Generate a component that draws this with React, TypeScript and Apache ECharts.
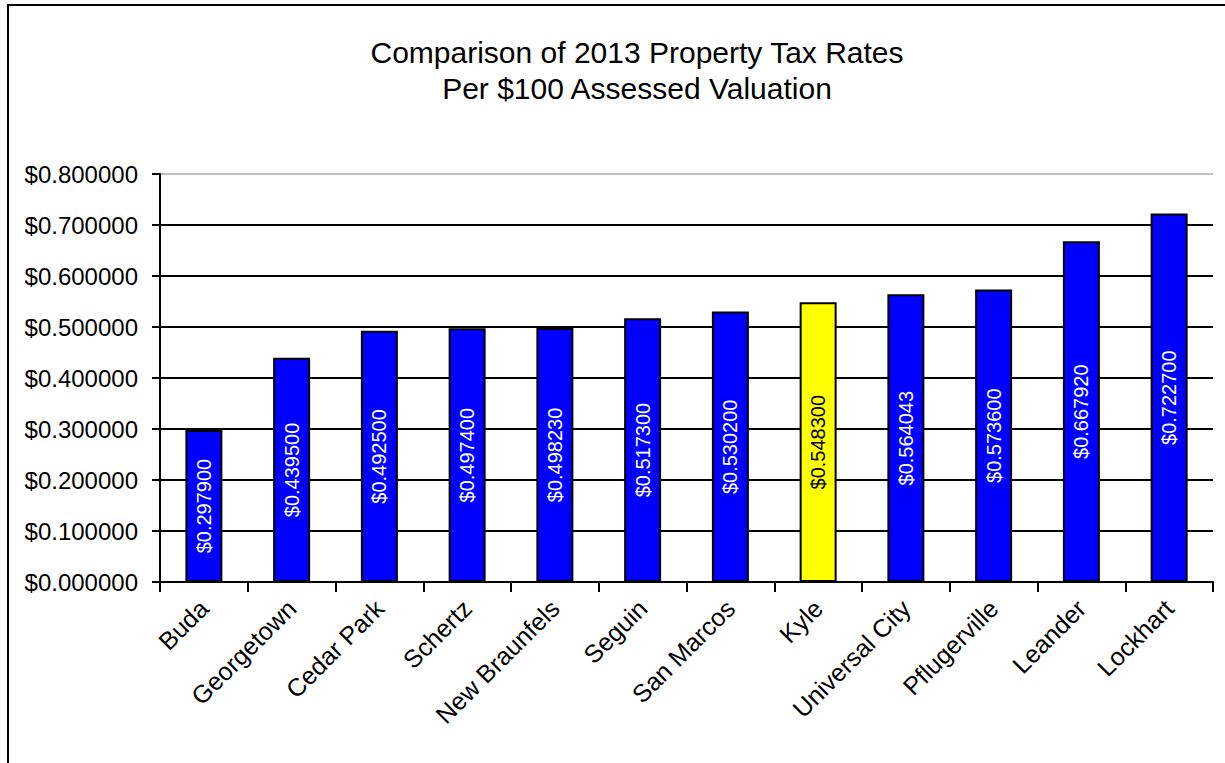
import React, { useEffect, useRef } from "react";
import * as echarts from "echarts";

const titleLines = ["Comparison of 2013 Property Tax Rates", "Per $100 Assessed Valuation"];
const cities = [
  "Buda", "Georgetown", "Cedar Park", "Schertz", "New Braunfels", "Seguin",
  "San Marcos", "Kyle", "Universal City", "Pflugerville", "Leander", "Lockhart",
];
const rates = [0.2979, 0.4395, 0.4925, 0.4974, 0.49823, 0.5173, 0.5302, 0.5483, 0.564043, 0.5736, 0.66792, 0.7227];
const highlightCity = "Kyle";
const yMin = 0;
const yMax = 0.8;
const yStep = 0.1;

export default function App() {
  const ref = useRef<HTMLDivElement>(null);
  useEffect(() => {
    if (!ref.current) return;
    const chart = echarts.init(ref.current, null, { renderer: "svg" });
    const font = "'Liberation Sans', Arial, sans-serif";
    chart.setOption({
      animation: false,
      backgroundColor: "#fff",
      graphic: [
        {
          type: "rect",
          shape: { x: 8, y: 5, width: 1400, height: 1000 },
          style: { fill: "none", stroke: "#000", lineWidth: 2 },
          silent: true,
        },
        {
          type: "text",
          x: 637,
          y: 34,
          style: {
            text: titleLines.join("\n"),
            font: `30px ${font}`,
            fill: "#000",
            textAlign: "center",
            lineHeight: 36,
          },
        },
      ],
      grid: { left: 160, right: 12, top: 174, bottom: 181, containLabel: false },
      xAxis: {
        type: "category",
        data: cities,
        axisLine: { lineStyle: { color: "#000", width: 2 } },
        axisTick: { show: true, alignWithLabel: false, length: 10, lineStyle: { color: "#000", width: 2 } },
        axisLabel: {
          rotate: 45,
          interval: 0,
          margin: 22,
          color: "#000",
          fontFamily: font,
          fontSize: 25,
        },
      },
      yAxis: {
        type: "value",
        min: yMin,
        max: yMax,
        interval: yStep,
        axisLine: { show: true, lineStyle: { color: "#000", width: 2 } },
        axisTick: { show: true, length: 8, lineStyle: { color: "#000", width: 2 } },
        axisLabel: {
          margin: 22,
          color: "#000",
          fontFamily: font,
          fontSize: 24,
          formatter: (v: number) => "$" + v.toFixed(6),
        },
        splitLine: {
          lineStyle: {
            color: ["#000", "#000", "#000", "#000", "#000", "#000", "#000", "#000", "#c0c0c0"],
            width: 2,
          },
        },
      },
      series: [
        {
          type: "bar",
          barWidth: 37,
          data: rates.map((v, i) => {
            const hl = cities[i] === highlightCity;
            return {
              value: v,
              itemStyle: { color: hl ? "#ffff00" : "#0000ff", borderColor: "#000", borderWidth: 2 },
              label: { color: hl ? "#000" : "#fff" },
            };
          }),
          label: {
            show: true,
            position: "inside",
            rotate: 90,
            fontFamily: font,
            fontSize: 20,
            formatter: (p: any) => "$" + Number(p.value).toFixed(6),
          },
        },
      ],
    });
    return () => chart.dispose();
  }, []);
  return (
    <div
      ref={ref}
      style={{ position: "absolute", left: 0, top: 0, width: 1225, height: 763 }}
    />
  );
}
